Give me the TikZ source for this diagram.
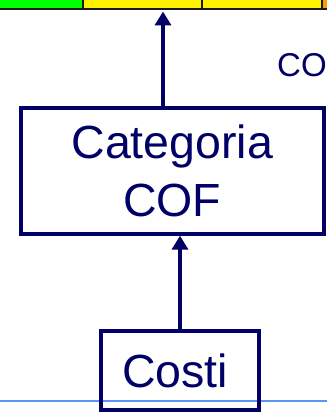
\documentclass[tikz,border=0pt]{standalone}
\usepackage{fontspec}
\setmainfont{Liberation Sans}
\usepackage{xcolor}
\usetikzlibrary{arrows.meta}

\definecolor{cofnavy}{RGB}{0,0,102}
\definecolor{rulerblue}{RGB}{88,150,240}
\definecolor{barorange}{RGB}{255,153,0}

\begin{document}
\begin{tikzpicture}[x=1pt, y=-1pt,
    box/.style={draw=cofnavy, line width=4pt, text=cofnavy, inner sep=0pt, align=center,
      font=\fontsize{46.5}{58}\selectfont},
    uparrow/.style={draw=cofnavy, line width=4pt, -{Triangle[width=16pt,length=14pt]}}]
  \useasboundingbox (0,0) rectangle (327,412);
  % top bar
  \fill[green] (0,-5) rectangle (82.5,9);
  \fill[yellow] (82.5,-5) rectangle (321.5,9);
  \fill[barorange] (321.5,-5) rectangle (327,9);
  \draw[line width=2pt, black!90] (0,9) -- (327,9);
  \foreach \x in {82.5, 201.5, 321.5}
    \draw[line width=2pt, black!90] (\x,-5) -- (\x,9);
  \coordinate (bar) at (163,11.5);
  \node[text=cofnavy, font=\fontsize{33}{40}\selectfont, anchor=west, inner sep=0pt] (co) at (277,64.7) {CO};

  \draw[line width=2pt, rulerblue] (0,401) -- (327,401);

  \node[box, minimum width=303.5pt, minimum height=126pt] (cat) at (172.25,170.7) {Categoria\\COF};
  \node[box, minimum width=158pt, minimum height=78.2pt] (costi) at (180,370.4) {Costi\hspace{10pt}};

  \draw[uparrow] (cat.north -| bar) -- (bar);
  \draw[uparrow] (costi.north) -- (cat.south -| costi.north);
\end{tikzpicture}
\end{document}
